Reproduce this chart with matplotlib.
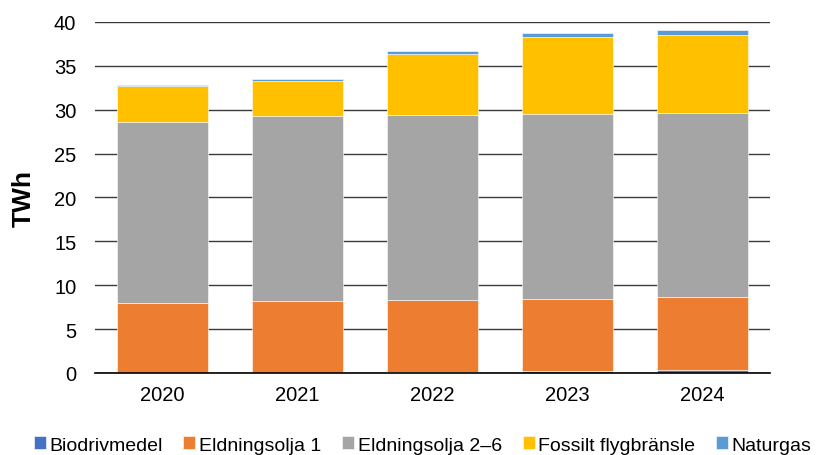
import matplotlib.pyplot as plt
import numpy as np

plt.rcParams['font.family'] = ['Liberation Sans', 'DejaVu Sans']

years = ['2020', '2021', '2022', '2023', '2024']
biodrivmedel = [0.0, 0.0, 0.05, 0.2, 0.3]
eldningsolja_1 = [8.0, 8.2, 8.3, 8.26, 8.36]
eldningsolja_2_6 = [20.6, 21.1, 21.05, 21.04, 20.94]
fossilt_flyg = [4.1, 4.0, 6.9, 8.8, 8.9]
naturgas = [0.15, 0.2, 0.4, 0.4, 0.6]

series = [
    ('Biodrivmedel', biodrivmedel, '#4472C4'),
    ('Eldningsolja 1', eldningsolja_1, '#ED7D31'),
    ('Eldningsolja 2–6', eldningsolja_2_6, '#A5A5A5'),
    ('Fossilt flygbränsle', fossilt_flyg, '#FFC000'),
    ('Naturgas', naturgas, '#5B9BD5'),
]

fig = plt.figure(figsize=(8.22, 4.56), dpi=100)
ax = fig.add_axes([0.1156, 0.180, 0.821, 0.7696])

x = np.arange(len(years))
bottom = np.zeros(len(years))
for name, vals, col in series:
    ax.bar(x, vals, width=0.67, bottom=bottom, color=col, label=name,
           edgecolor='white', linewidth=0.4, zorder=3)
    bottom += np.array(vals)

ax.set_xlim(-0.5, 4.5)
ax.set_ylim(0, 40)
ax.set_yticks(np.arange(0, 41, 5))
ax.set_xticks(x)
ax.set_xticklabels(years)
ax.tick_params(axis='both', length=0, labelsize=14.5, colors='#000000')
ax.tick_params(axis='x', pad=9)
ax.tick_params(axis='y', pad=13.5)
ax.yaxis.grid(True, color='#3a3a3a', linewidth=1.0, zorder=0)
for s in ['top', 'right', 'left']:
    ax.spines[s].set_visible(False)
ax.spines['bottom'].set_color('#000000')
ax.spines['bottom'].set_linewidth(1.2)
ax.spines['bottom'].set_zorder(4)
ax.set_ylabel('TWh', fontsize=19, fontweight='bold', labelpad=13)

handles, labels = ax.get_legend_handles_labels()
fig.legend(handles, labels, loc='center left', bbox_to_anchor=(0.041, 0.022),
           ncol=5, frameon=False, fontsize=14, handlelength=0.62,
           handleheight=0.62, handletextpad=0.2, columnspacing=1.05,
           borderpad=0, borderaxespad=0)

fig.savefig('out.png', dpi=100)
